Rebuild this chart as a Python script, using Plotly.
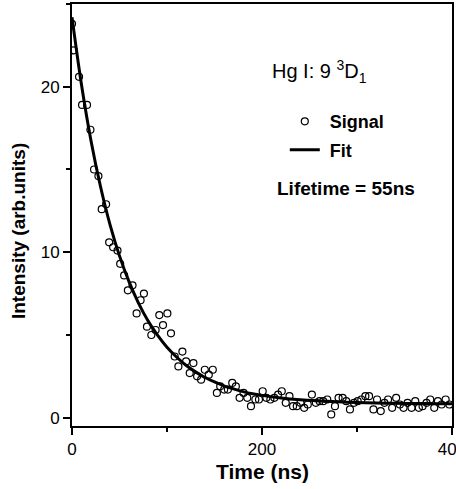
import plotly.graph_objects as go

# Measured signal (time in ns, intensity in arb. units)
time_ns = [0.0, 1.8, 7.4, 10.6, 15.8, 19.4, 23.2, 27.8, 31.3, 35.9, 39.1, 43.3, 47.9, 50.7, 54.9,
           58.8, 63.7, 68.0, 72.2, 75.7, 78.9, 83.5, 88.0, 91.9, 95.8, 100.4, 104.2, 108.1,
           112.0, 116.2, 120.1, 123.9, 127.8, 131.7, 135.9, 139.8, 144.0, 148.2, 152.5,
           156.0, 160.2, 164.1, 168.7, 172.5, 176.4, 180.6, 184.5, 188.4, 193.0, 196.8,
           200.7, 204.6, 208.8, 213.0, 216.9, 220.8, 225.0, 228.9, 232.7, 236.6, 240.5,
           244.4, 248.2, 252.5, 256.7, 260.6, 264.4, 268.7, 272.9, 276.8, 280.6, 284.9,
           288.7, 292.6, 296.8, 300.7, 304.6, 308.8, 312.7, 317.3, 321.1, 325.0, 328.9,
           332.7, 337.0, 341.2, 345.1, 349.0, 353.2, 357.4, 361.3, 365.1, 369.0, 373.2,
           377.1, 381.3, 385.2, 389.1, 393.3, 397.2]
signal = [23.8, 22.2, 20.6, 18.9, 18.9, 17.4, 15.0, 14.6, 12.6, 12.9, 10.6, 10.3, 10.1, 9.3, 8.6,
          7.7, 8.0, 6.3, 7.1, 7.5, 5.5, 5.0, 5.3, 6.2, 5.6, 6.3, 5.1, 3.7,
          3.1, 4.0, 3.4, 2.7, 3.3, 2.5, 2.3, 2.9, 2.6, 2.9, 1.5,
          1.9, 1.7, 1.7, 2.1, 1.9, 1.2, 1.5, 1.2, 0.7, 1.1, 1.1,
          1.6, 1.2, 1.1, 1.2, 1.4, 1.6, 0.9, 1.3, 0.7, 0.7, 0.9,
          0.6, 0.8, 1.4, 0.9, 1.0, 1.0, 1.1, 0.2, 0.7, 1.2, 1.2,
          1.0, 0.5, 0.9, 1.0, 1.1, 1.3, 1.3, 0.5, 1.1, 0.4, 0.9,
          1.1, 0.6, 1.2, 0.8, 0.6, 0.9, 0.6, 1.0, 0.6, 0.7, 0.9,
          1.1, 0.6, 1.0, 0.8, 1.1, 0.8]

# Fit curve
fit_time = [0, 10, 20, 30, 40, 50, 60, 70, 80, 90, 100, 110, 120, 130, 140, 150, 160, 170,
            180, 190, 200, 220, 240, 260, 280, 300, 320, 340, 360, 380, 400]
fit_vals = [24.20, 20.12, 16.74, 13.97, 11.67, 9.78, 8.22, 6.93, 5.86, 4.99, 4.26, 3.67,
            3.17, 2.77, 2.43, 2.16, 1.93, 1.74, 1.58, 1.45, 1.35, 1.19, 1.08, 1.01, 0.96,
            0.92, 0.89, 0.87, 0.86, 0.85, 0.85]

x_ticks = [0, 200, 400]
y_ticks = [0, 10, 20]

FONT = "Liberation Sans, Arial, sans-serif"

fig = go.Figure()
fig.add_trace(go.Scatter(
    x=time_ns, y=signal, mode="markers", name="\u00a0Signal", legendgroup="a",
    marker=dict(symbol="circle-open", size=7, color="black", line=dict(width=1.2, color="black")),
))
fig.add_trace(go.Scatter(
    x=fit_time, y=fit_vals, mode="lines", name="\u00a0Fit", legendgroup="b",
    line=dict(color="black", width=3, shape="spline"),
))

axis_common = dict(
    showline=True, linecolor="black", linewidth=2, mirror=True,
    ticks="outside", tickcolor="black", tickwidth=2, ticklen=7,
    showgrid=False, zeroline=False, automargin=False,
    tickfont=dict(family=FONT, size=17, color="black"),
)

fig.update_xaxes(
    range=[0, 400], tickvals=x_ticks, ticktext=[str(v) for v in x_ticks],
    minor=dict(dtick=100, ticks="outside", ticklen=4, tickwidth=2, tickcolor="black"),
    ticklabeloverflow="allow",
    **axis_common,
)
fig.update_yaxes(
    range=[-0.5, 25], tickvals=y_ticks, ticktext=[str(v) for v in y_ticks],
    minor=dict(dtick=5, ticks="outside", ticklen=4, tickwidth=2, tickcolor="black"),
    **axis_common,
)

# Axis titles
fig.add_annotation(
    x=0.5, y=-0.109, xref="paper", yref="paper", xanchor="center", yanchor="middle",
    text="<b>Time (ns)</b>", showarrow=False,
    font=dict(family=FONT, size=21, color="black"),
)
fig.add_annotation(
    x=-0.142, y=0.462, xref="paper", yref="paper", xanchor="center", yanchor="middle",
    text="<b>Intensity (arb.units)</b>", showarrow=False, textangle=-90,
    font=dict(family=FONT, size=19, color="black"),
)

fig.add_annotation(
    x=0.52, y=0.84, xref="paper", yref="paper", xanchor="left", yanchor="middle",
    text="Hg I: 9 <sup>3</sup>D<sub>1</sub>", showarrow=False,
    font=dict(family=FONT, size=20, color="black"),
)
fig.add_annotation(
    x=0.535, y=0.563, xref="paper", yref="paper", xanchor="left", yanchor="middle",
    text="<b>Lifetime = 55ns</b>", showarrow=False,
    font=dict(family=FONT, size=19, color="black"),
)

fig.update_layout(
    width=456, height=489,
    margin=dict(l=72, r=4, t=4, b=63),
    paper_bgcolor="white", plot_bgcolor="white",
    showlegend=True,
    legend=dict(
        x=0.56, y=0.765, xanchor="left", yanchor="top",
        font=dict(family=FONT, size=18, color="black", weight="bold"),
        bgcolor="rgba(0,0,0,0)", tracegroupgap=2, traceorder="grouped",
        itemwidth=30,
    ),
)

fig.write_html("out.html", config={"displayModeBar": False},
               post_script="document.body.style.margin='0px';")
